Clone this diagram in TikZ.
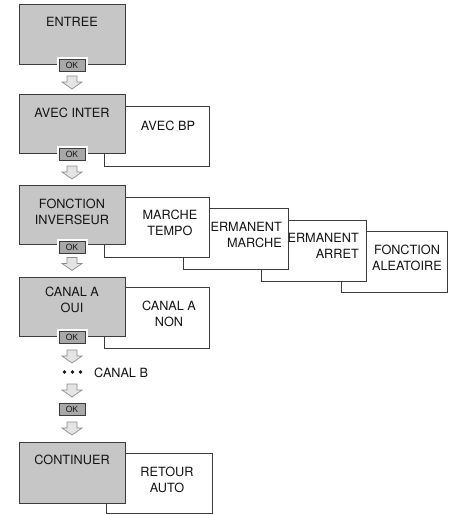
\documentclass[tikz,border=0pt]{standalone}
\usepackage{fontspec}
\setmainfont{TeX Gyre Heros}
\definecolor{boxgray}{HTML}{C6C6C6}
\definecolor{okgray}{HTML}{A8A8A8}
\definecolor{linec}{HTML}{3C3C3C}
\definecolor{arrfill}{HTML}{E4E4E4}
\definecolor{arrline}{HTML}{8E8E8E}
\definecolor{txt}{HTML}{141414}
\tikzset{
 graybox/.style={draw=linec, fill=boxgray, line width=0.8pt, minimum width=106pt, minimum height=60pt, inner sep=0pt},
 whitebox/.style={draw=linec, fill=white, line width=0.8pt, minimum width=105pt, minimum height=60pt, inner sep=0pt},
 lbl/.style={font=\fontsize{12.7}{16}\selectfont, align=center, inner sep=0pt, text=txt},
 rlbl/.style={font=\fontsize{12.7}{16}\selectfont, align=right, inner sep=0pt, text=txt},
 okbtn/.style={draw=linec, fill=okgray, line width=0.7pt, minimum width=26pt, minimum height=12pt, inner sep=0pt, font=\fontsize{8.5}{9}\selectfont, text=txt},
 okpad/.style={fill=white, minimum width=31pt, minimum height=17pt, inner sep=0pt},
 blockarrow/.pic={\draw[draw=arrline, fill=arrfill, line width=0.7pt] (-5,-6.5) -- (5,-6.5) -- (5,-0.5) -- (10,-0.5) -- (0,6.5) -- (-10,-0.5) -- (-5,-0.5) -- cycle;}
}
\begin{document}
\begin{tikzpicture}[x=1pt,y=-1pt]
\useasboundingbox[fill=white] (0,0) rectangle (457,515);

% ENTREE
\node[graybox] (entree) at (72,34) {};
\node[lbl] (entreeT) at (72,21.5) {ENTREE};
\node[okpad] (ok1p) at (72,65) {};
\node[okbtn] (ok1) at (72,65) {OK};
\pic at (72,82.5) {blockarrow};

% AVEC INTER
\node[whitebox] (avecbp) at (156.5,136) {};
\node[lbl] (avecbpT) at (168,125.5) {AVEC BP};
\node[graybox, minimum height=59pt] (avecinter) at (72,123.5) {};
\node[lbl] (avecinterT) at (72,112.5) {AVEC INTER};
\node[okpad] (ok2p) at (72,154.5) {};
\node[okbtn] (ok2) at (72,154.5) {OK};
\pic at (72,172.5) {blockarrow};

% FONCTION INVERSEUR
\node[whitebox, minimum width=106pt, minimum height=61pt] (alea) at (394,261.5) {};
\node[lbl] (aleaT) at (407,257.5) {FONCTION\\ALEATOIRE};
\node[whitebox, minimum height=61pt] (parret) at (313.5,250.5) {};
\node[rlbl, anchor=east] (parretT) at (359,246) {PERMANENT\\ARRET};
\node[whitebox, minimum height=61pt] (pmarche) at (235.5,238.5) {};
\node[rlbl, anchor=east] (pmarcheT) at (282,235) {PERMANENT\\MARCHE};
\node[whitebox] (mtempo) at (156.5,227) {};
\node[lbl] (mtempoT) at (170,222.5) {MARCHE\\TEMPO};
\node[graybox, minimum height=59pt] (fonction) at (72,214.5) {};
\node[lbl] (fonctionT) at (72,211.5) {FONCTION\\INVERSEUR};
\node[okpad] (ok3p) at (72,247) {};
\node[okbtn] (ok3) at (72,247) {OK};
\pic at (72,264) {blockarrow};

% CANAL A
\node[whitebox, minimum height=61pt] (canalnon) at (156.5,317.5) {};
\node[lbl] (canalnonT) at (169,314) {CANAL A\\NON};
\node[graybox, minimum height=59pt] (canaloui) at (72,306.5) {};
\node[lbl] (canalouiT) at (72,299.5) {CANAL A\\OUI};
\node[okpad] (ok4p) at (72,337) {};
\node[okbtn] (ok4) at (72,337) {OK};
\pic at (72,356.5) {blockarrow};

% CANAL B
\fill[txt] (64.5,372) circle (1.9) (72.5,372) circle (1.9) (80.5,372) circle (1.9);
\node[lbl, anchor=west] (canalb) at (94,372.5) {CANAL B};
\pic at (72,390.5) {blockarrow};
\node[okbtn] (ok5) at (72,409.5) {OK};
\pic at (72,428.5) {blockarrow};

% CONTINUER
\node[whitebox, minimum width=106pt] (retour) at (159,483) {};
\node[lbl] (retourT) at (167,479.5) {RETOUR\\AUTO};
\node[graybox, minimum height=61pt] (continuer) at (72,472.5) {};
\node[lbl] (continuerT) at (72,459.5) {CONTINUER};
\end{tikzpicture}
\end{document}
